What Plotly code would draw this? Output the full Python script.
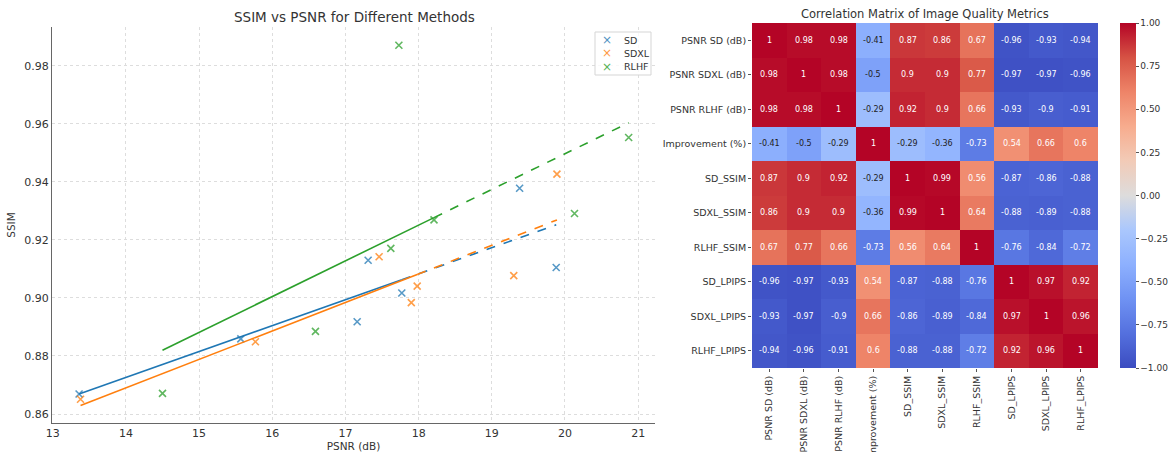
import plotly.graph_objects as go

# ---------------- data ----------------
methods = ["SD", "SDXL", "RLHF"]
colors = ["#1f77b4", "#ff7f0e", "#2ca02c"]

psnr_sd = [13.36, 15.57, 17.16, 17.31, 17.77, 19.38, 19.88]
ssim_sd = [0.8669, 0.8859, 0.8918, 0.9130, 0.9017, 0.9378, 0.9105]
psnr_sdxl = [13.38, 15.77, 17.46, 17.90, 17.98, 19.30, 19.89]
ssim_sdxl = [0.8651, 0.8849, 0.9142, 0.8984, 0.9041, 0.9077, 0.9427]
psnr_rlhf = [14.50, 16.59, 17.62, 17.73, 18.21, 20.13, 20.87]
ssim_rlhf = [0.8671, 0.8885, 0.9171, 0.9871, 0.9269, 0.9291, 0.9553]

# trend lines: x at start, break (solid->dashed), end ; fitted y values
fit_x_sd = [13.36, 17.77, 19.88]
fit_y_sd = [0.8669, 0.9063, 0.9252]
fit_x_sdxl = [13.38, 17.98, 19.89]
fit_y_sdxl = [0.8629, 0.9081, 0.9269]
fit_x_rlhf = [14.50, 18.21, 20.87]
fit_y_rlhf = [0.8820, 0.9277, 0.9604]

metrics = ["PSNR SD (dB)", "PSNR SDXL (dB)", "PSNR RLHF (dB)", "Improvement (%)",
           "SD_SSIM", "SDXL_SSIM", "RLHF_SSIM", "SD_LPIPS", "SDXL_LPIPS", "RLHF_LPIPS"]
corr = [
    [1, 0.98, 0.98, -0.41, 0.87, 0.86, 0.67, -0.96, -0.93, -0.94],
    [0.98, 1, 0.98, -0.5, 0.9, 0.9, 0.77, -0.97, -0.97, -0.96],
    [0.98, 0.98, 1, -0.29, 0.92, 0.9, 0.66, -0.93, -0.9, -0.91],
    [-0.41, -0.5, -0.29, 1, -0.29, -0.36, -0.73, 0.54, 0.66, 0.6],
    [0.87, 0.9, 0.92, -0.29, 1, 0.99, 0.56, -0.87, -0.86, -0.88],
    [0.86, 0.9, 0.9, -0.36, 0.99, 1, 0.64, -0.88, -0.89, -0.88],
    [0.67, 0.77, 0.66, -0.73, 0.56, 0.64, 1, -0.76, -0.84, -0.72],
    [-0.96, -0.97, -0.93, 0.54, -0.87, -0.88, -0.76, 1, 0.97, 0.92],
    [-0.93, -0.97, -0.9, 0.66, -0.86, -0.89, -0.84, 0.97, 1, 0.96],
    [-0.94, -0.96, -0.91, 0.6, -0.88, -0.88, -0.72, 0.92, 0.96, 1],
]
cbar_vals = [1.0, 0.75, 0.5, 0.25, 0.0, -0.25, -0.5, -0.75, -1.0]
cbar_text = ["1.00", "0.75", "0.50", "0.25", "0.00", "\u22120.25", "\u22120.50", "\u22120.75", "\u22121.00"]

coolwarm = [
    [0.0, "#3b4cc0"], [0.1, "#5470de"], [0.2, "#6f92f3"], [0.3, "#8db0fe"],
    [0.4, "#aac7fd"], [0.5, "#dddcdc"], [0.6, "#f2cbb7"], [0.7, "#f7ac8e"],
    [0.8, "#ee8468"], [0.9, "#d65244"], [1.0, "#b40426"],
]

FONT = "DejaVu Sans"
TXT = "#333333"
W, H = 1170, 452

fig = go.Figure()

xs = [psnr_sd, psnr_sdxl, psnr_rlhf]
ys = [ssim_sd, ssim_sdxl, ssim_rlhf]
fxs = [fit_x_sd, fit_x_sdxl, fit_x_rlhf]
fys = [fit_y_sd, fit_y_sdxl, fit_y_rlhf]

for m, c, x, y in zip(methods, colors, xs, ys):
    fig.add_trace(go.Scatter(
        x=x, y=y, mode="markers", name=m, showlegend=False,
        marker=dict(symbol="x-thin", size=7, color=c, opacity=0.75,
                    line=dict(width=1.6, color=c)),
        xaxis="x", yaxis="y"))

for m, c, fx, fy in zip(methods, colors, fxs, fys):
    fig.add_trace(go.Scatter(x=fx[:2], y=fy[:2], mode="lines", showlegend=False,
                             line=dict(color=c, width=1.6), xaxis="x", yaxis="y",
                             hoverinfo="skip"))
    fig.add_trace(go.Scatter(x=fx[1:], y=fy[1:], mode="lines", showlegend=False,
                             line=dict(color=c, width=1.6, dash="dash"),
                             xaxis="x", yaxis="y", hoverinfo="skip"))

fig.add_trace(go.Heatmap(
    z=corr, x=metrics, y=metrics, zmin=-1, zmax=1, colorscale=coolwarm,
    xaxis="x2", yaxis="y2", showscale=True,
    colorbar=dict(x=1120 / W, xanchor="left", xpad=0, ypad=0,
                  y=1 - 195.5 / H, yanchor="middle",
                  len=345 / H, lenmode="fraction", thickness=16, outlinewidth=0,
                  tickmode="array", tickvals=cbar_vals, ticktext=cbar_text,
                  ticks="outside", ticklen=3, tickcolor="#555",
                  tickfont=dict(family=FONT, size=9, color=TXT)),
    hoverinfo="skip"))

annotations = []
for i, r in enumerate(metrics):
    for j, cname in enumerate(metrics):
        v = corr[i][j]
        col = "#222222" if (-0.55 < v < 0.45) else "#ffffff"
        annotations.append(dict(x=cname, y=r, xref="x2", yref="y2", text=f"{v:g}",
                                showarrow=False,
                                font=dict(family=FONT, size=8, color=col)))

annotations.append(dict(text="SSIM vs PSNR for Different Methods", x=354 / W, y=1 - 17 / H,
                        xref="paper", yref="paper", showarrow=False, xanchor="center",
                        yanchor="middle", font=dict(family=FONT, size=13.5, color=TXT)))
annotations.append(dict(text="Correlation Matrix of Image Quality Metrics", x=925 / W,
                        y=1 - 14 / H, xref="paper", yref="paper", showarrow=False,
                        xanchor="center", yanchor="middle",
                        font=dict(family=FONT, size=11.5, color=TXT)))

# compact legend (box + entries) at the top-right of the scatter panel
shapes = [dict(type="rect", xref="paper", yref="paper",
               x0=595 / W, x1=651 / W, y0=1 - 75 / H, y1=1 - 32 / H,
               line=dict(color="#d5d5d5", width=1), fillcolor="rgba(255,255,255,0.8)",
               layer="above")]
for k, (m, c) in enumerate(zip(methods, colors)):
    yy = 1 - (40 + 13.3 * k) / H
    annotations.append(dict(text="\u00d7", x=607 / W, y=yy, xref="paper", yref="paper",
                            showarrow=False, xanchor="center", yanchor="middle",
                            opacity=0.8, font=dict(family=FONT, size=12, color=c)))
    annotations.append(dict(text=m, x=622 / W, y=yy, xref="paper", yref="paper",
                            showarrow=False, xanchor="left", yanchor="middle",
                            font=dict(family=FONT, size=9.5, color=TXT)))

fig.update_layout(
    width=W, height=H,
    margin=dict(l=0, r=0, t=0, b=0, autoexpand=False),
    paper_bgcolor="white", plot_bgcolor="white",
    font=dict(family=FONT, color=TXT),
    showlegend=False,
    xaxis=dict(domain=[52 / W, 655 / W], range=[12.99, 21.23],
               tickvals=[13, 14, 15, 16, 17, 18, 19, 20, 21],
               showline=True, linecolor="#666", linewidth=1.2, ticks="",
               showgrid=True, gridcolor="#dddddd", griddash="dot", gridwidth=1,
               zeroline=False, tickfont=dict(family=FONT, size=11, color=TXT),
               title=dict(text="PSNR (dB)", font=dict(family=FONT, size=10.5, color=TXT),
                          standoff=4),
               anchor="y", automargin=False),
    yaxis=dict(domain=[1 - 423 / H, 1 - 27 / H], range=[0.8569, 0.9934],
               tickvals=[0.86, 0.88, 0.90, 0.92, 0.94, 0.96, 0.98],
               ticktext=["0.86", "0.88", "0.90", "0.92", "0.94", "0.96", "0.98"],
               showline=True, linecolor="#666", linewidth=1.2, ticks="",
               showgrid=True, gridcolor="#dddddd", griddash="dot", gridwidth=1,
               zeroline=False, tickfont=dict(family=FONT, size=11, color=TXT),
               title=dict(text="SSIM", font=dict(family=FONT, size=10.5, color=TXT),
                          standoff=6),
               anchor="x", automargin=False),
    xaxis2=dict(domain=[752 / W, 1098 / W], anchor="y2", showgrid=False,
                zeroline=False, tickangle=-90, ticks="outside", ticklen=3,
                tickcolor="#555", tickfont=dict(family=FONT, size=9.5, color=TXT),
                showline=False, automargin=False),
    yaxis2=dict(domain=[1 - 368 / H, 1 - 23 / H], anchor="x2", showgrid=False,
                zeroline=False, autorange="reversed", ticks="outside", ticklen=3,
                tickcolor="#555", tickfont=dict(family=FONT, size=9.5, color=TXT),
                showline=False, automargin=False),
    annotations=annotations,
    shapes=shapes,
)

fig.write_html("out.html", config={"displayModeBar": False},
               post_script="document.body.style.margin='0px';document.body.style.padding='0px';")
